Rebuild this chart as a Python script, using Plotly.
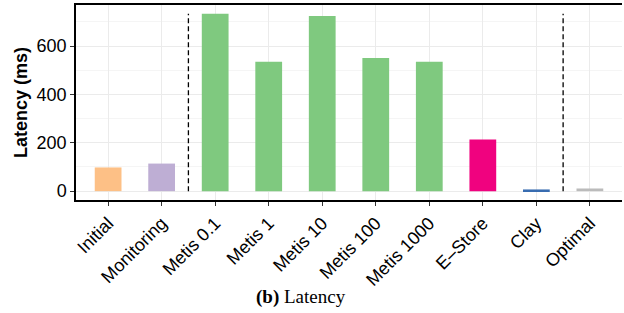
import plotly.graph_objects as go

categories = ["Initial", "Monitoring", "Metis 0.1", "Metis 1", "Metis 10",
              "Metis 100", "Metis 1000", "E\u2013Store", "Clay", "Optimal"]
latency = [98, 114, 733, 535, 724, 551, 535, 213, 7, 11]
colors = ["#FDC086", "#BEAED4", "#7FC97F", "#7FC97F", "#7FC97F",
          "#7FC97F", "#7FC97F", "#F0027F", "#386CB0", "#BBBBBB"]
separators = [1.5, 8.5]
y_ticks = [0, 200, 400, 600]

ymax = max(latency)
pad = 0.05 * ymax

fig = go.Figure()
fig.add_trace(go.Bar(x=categories, y=latency, marker_color=colors,
                     marker_line_width=0, width=0.5, showlegend=False))

for s in separators:
    fig.add_shape(type="line", xref="x", yref="y", x0=s, x1=s, y0=0, y1=ymax,
                  line=dict(color="black", width=1.3, dash="5px,3px"), layer="above")

fig.update_layout(
    width=624, height=313,
    margin=dict(l=76, r=2, t=5, b=113),
    plot_bgcolor="white", paper_bgcolor="white",
    font=dict(family="Liberation Sans, Arial, sans-serif", color="black"),
)
fig.update_xaxes(
    range=[-0.6, len(categories) - 0.4], tickangle=-45, automargin=False,
    tickfont=dict(size=18, color="black"),
    showline=True, linecolor="black", linewidth=1.5, mirror=True,
    ticks="outside", ticklen=4, tickcolor="#333333", tickwidth=1,
    showgrid=True, gridcolor="#EBEBEB", gridwidth=1.2,
)
fig.update_yaxes(
    range=[-pad, ymax + pad], tickvals=y_ticks, automargin=False,
    tickfont=dict(size=18, color="black"),
    title=dict(text="<b>Latency (ms)</b>", font=dict(size=18, color="black"), standoff=4),
    showline=True, linecolor="black", linewidth=1.5,
    ticks="outside", ticklen=4, tickcolor="#333333", tickwidth=1,
    showgrid=True, gridcolor="#EBEBEB", gridwidth=1.2, zeroline=False,
    minor=dict(tickvals=[100, 300, 500, 700], showgrid=True, gridcolor="#F5F5F5", gridwidth=1),
)
fig.add_annotation(text="<b>(b)</b> Latency", xref="paper", yref="paper",
                   x=0.412, y=0, yshift=-97, yanchor="middle", showarrow=False,
                   font=dict(family="Liberation Serif, Times New Roman, serif", size=19, color="black"))

fig.write_html("out.html", config={"displayModeBar": False},
               post_script="document.body.style.margin='0';document.body.style.padding='0';")
